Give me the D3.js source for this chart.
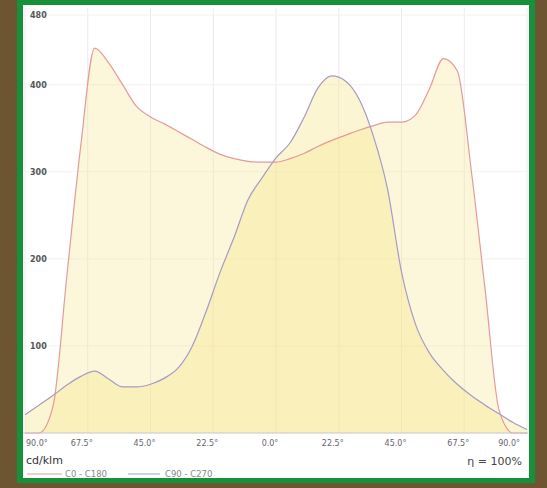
<!DOCTYPE html>
<head>
  <meta charset="utf-8">
  <script src="https://d3js.org/d3.v7.min.js"></script>
  <style>
    body { margin: 0; background-color: #6c5530; }
    text { font-family: "DejaVu Sans", sans-serif; }
  </style>
</head>
<body>
  <div id="graph"></div>
  <script>
    // Angles (deg) and intensities (cd/klm)
    var angles = [-90, -85, -80, -75, -70, -65, -60, -55, -50, -45, -40, -35, -30, -25, -20, -15, -10, -5, 0,
      5, 10, 15, 20, 25, 30, 35, 40, 45, 50, 55, 60, 65, 70, 75, 80, 85, 90];
    var c0 = [0, 0, 30, 180, 330, 442, 425, 400, 375, 363, 355, 346, 337, 328, 320, 315, 312, 311, 311,
      315, 321, 329, 336, 342, 348, 353, 357, 357, 365, 395, 430, 416, 302, 164, 26, 0, 0];
    var c90 = [21, 32, 43, 55, 65, 71, 62, 53, 53, 56, 63, 75, 100, 140, 185, 225, 268, 293, 316,
      333, 362, 396, 410, 404, 382, 340, 280, 185, 125, 92, 72, 56, 43, 32, 22, 12, 4];
    var xTicks = [-90, -67.5, -45, -22.5, 0, 22.5, 45, 67.5, 90];
    var xLabels = ["90.0°", "67.5°", "45.0°", "22.5°", "0.0°", "22.5°", "45.0°", "67.5°", "90.0°"];
    var yTicks = [100, 200, 300, 400, 480];
    var seriesNames = ["C0 - C180", "C90 - C270"];

    var width = 547;
    var height = 488;
    var svg = d3.select("#graph").append("svg")
      .attr("width", width)
      .attr("height", height);

    // frame
    svg.append("rect").attr("x", 17).attr("y", -5).attr("width", 518).attr("height", 488)
      .attr("fill", "#17903a");
    svg.append("rect").attr("x", 23).attr("y", 5).attr("width", 506).attr("height", 473)
      .attr("fill", "#ffffff");

    var x = d3.scaleLinear().domain([-90, 90]).range([25, 527]);
    var y = d3.scaleLinear().domain([0, 480]).range([433, 15]);

    svg.append("clipPath").attr("id", "clip")
      .append("rect").attr("x", 23).attr("y", 5).attr("width", 506).attr("height", 430);

    // grid
    var grid = svg.append("g");
    grid.selectAll(".vg").data(xTicks).enter().append("line")
      .attr("x1", d => x(d)).attr("x2", d => x(d))
      .attr("y1", 8).attr("y2", 433)
      .attr("stroke", "#ece8f2").attr("stroke-width", 1);
    grid.selectAll(".hg").data(yTicks).enter().append("line")
      .attr("x1", 23).attr("x2", 528)
      .attr("y1", d => y(d)).attr("y2", d => y(d))
      .attr("stroke", "#f2f2f2").attr("stroke-width", 1);

    var area = function(vals) {
      return d3.area()
        .x((d, i) => x(angles[i]))
        .y0(y(0))
        .y1(d => y(d))
        .curve(d3.curveMonotoneX)(vals);
    };
    var line = function(vals) {
      return d3.line()
        .x((d, i) => x(angles[i]))
        .y(d => y(d))
        .curve(d3.curveMonotoneX)(vals);
    };

    var plot = svg.append("g").attr("clip-path", "url(#clip)");
    plot.append("path").attr("d", area(c0)).attr("fill", "#f6e487").attr("fill-opacity", 0.3);
    plot.append("path").attr("d", area(c90)).attr("fill", "#f6e487").attr("fill-opacity", 0.38);
    plot.append("path").attr("d", line(c0)).attr("fill", "none")
      .attr("stroke", "#e49a9a").attr("stroke-width", 1.2);
    plot.append("path").attr("d", line(c90)).attr("fill", "none")
      .attr("stroke", "#a59cc6").attr("stroke-width", 1.2);

    // baseline
    svg.append("line").attr("x1", 23).attr("x2", 528).attr("y1", y(0)).attr("y2", y(0))
      .attr("stroke", "#c8c4cc").attr("stroke-width", 1);

    // y labels
    svg.selectAll(".yl").data(yTicks).enter().append("text")
      .attr("x", 30).attr("y", d => y(d) + 3)
      .attr("font-size", 8).attr("font-weight", "bold").attr("fill", "#555")
      .text(d => d);

    // x labels
    svg.selectAll(".xl").data(xTicks).enter().append("text")
      .attr("x", (d, i) => i == 0 ? 26 : (i == xTicks.length - 1 ? 520 : x(d) - 6))
      .attr("y", 446)
      .attr("text-anchor", (d, i) => i == 0 ? "start" : (i == xTicks.length - 1 ? "end" : "middle"))
      .attr("font-size", 8).attr("fill", "#666")
      .text((d, i) => xLabels[i]);

    svg.append("text").attr("x", 26).attr("y", 464)
      .attr("font-size", 11).attr("fill", "#333").text("cd/klm");
    svg.append("text").attr("x", 522).attr("y", 465).attr("text-anchor", "end")
      .attr("font-size", 11).attr("fill", "#444").text("η = 100%");

    // legend
    var legColors = ["#e49a9a", "#a59cc6"];
    var legX = [[27, 62, 65], [128, 160, 165]];
    seriesNames.forEach(function(name, i) {
      svg.append("line").attr("x1", legX[i][0]).attr("x2", legX[i][1])
        .attr("y1", 474).attr("y2", 474)
        .attr("stroke", legColors[i]).attr("stroke-width", 1);
      svg.append("text").attr("x", legX[i][2]).attr("y", 477)
        .attr("font-size", 8.5).attr("fill", "#888").text(name);
    });
  </script>
</body>
